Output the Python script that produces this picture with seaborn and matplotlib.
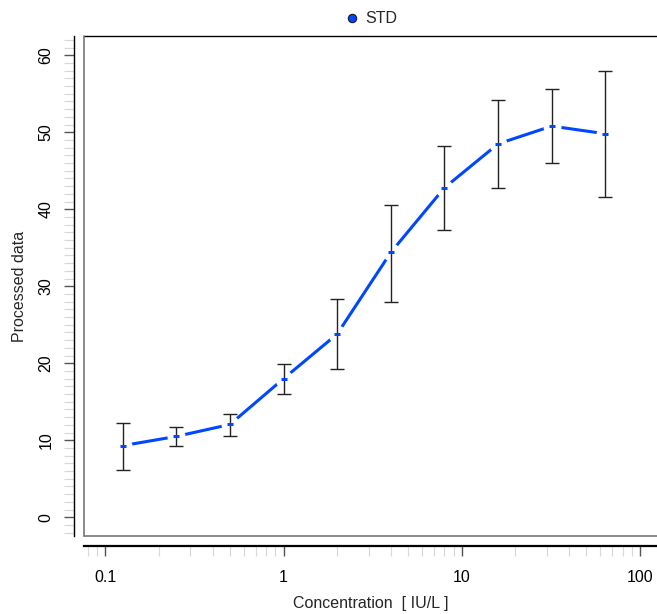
import numpy as np
import pandas as pd
import matplotlib
matplotlib.use("Agg")
import matplotlib.pyplot as plt
from matplotlib.lines import Line2D
from matplotlib.ticker import LogLocator, FixedLocator, NullFormatter
import seaborn as sns

# ---- data ----
concentration = [0.125, 0.25, 0.5, 1, 2, 4, 8, 16, 32, 64]
mean_value = [9.3, 10.5, 12.05, 18.0, 23.8, 34.4, 42.8, 48.5, 50.8, 49.8]
bar_low = [6.1, 9.3, 10.6, 16.0, 19.3, 27.9, 37.3, 42.8, 46.0, 41.6]
bar_high = [12.3, 11.7, 13.35, 19.9, 28.4, 40.6, 48.2, 54.2, 55.6, 58.0]
series_name = "STD"
x_ticks = [0.1, 1, 10, 100]
x_tick_labels = ["0.1", "1", "10", "100"]
y_ticks = [0, 10, 20, 30, 40, 50, 60]

df = pd.DataFrame({"conc": concentration, "mean": mean_value,
                   "low": bar_low, "high": bar_high})

sns.set_style("white")
plt.rcParams["font.family"] = ["Liberation Sans", "DejaVu Sans"]

W, H = 657, 614
fig = plt.figure(figsize=(W / 100, H / 100), dpi=100)
left, right, top, bottom = 84, 657, 36, 536
ax = fig.add_axes([left / W, 1 - bottom / H, (right - left) / W, (bottom - top) / H])

blue = "#0047ff"
dark = "#222222"
fs = 11.5

# line with gaps around points (white markers break the line)
sns.lineplot(data=df, x="conc", y="mean", ax=ax, color=blue, linewidth=2.2,
             marker="o", markersize=13, markerfacecolor="white",
             markeredgecolor="white", markeredgewidth=0, legend=False,
             zorder=2)

# error bars
yerr = np.vstack([df["mean"] - df["low"], df["high"] - df["mean"]])
ax.errorbar(df["conc"], df["mean"], yerr=yerr, fmt="none", ecolor=dark,
            elinewidth=1.0, capsize=5, capthick=1.0, zorder=3)

# blue dashes at the means
ax.plot(df["conc"], df["mean"], linestyle="none", marker="_", markersize=5,
        markeredgewidth=2.2, color=blue, zorder=4)

ax.set_xscale("log")
ax.set_xlim(10 ** -1.1195, 10 ** 2.0954)
ax.set_ylim(-2.43, 62.5)

# spines: detached axis lines
for s in ["top", "right"]:
    ax.spines[s].set_visible(False)
ax.spines["left"].set_position(("outward", 7.2))
ax.spines["bottom"].set_position(("outward", 7.0))
ax.spines["left"].set_color("black")
ax.spines["left"].set_linewidth(1.0)
ax.spines["bottom"].set_color("black")
ax.spines["bottom"].set_linewidth(1.6)

# box around the plotting region
ax.plot([0, 1], [1, 1], transform=ax.transAxes, color="black", lw=1.0, clip_on=False)
ax.plot([0, 0], [0, 1], transform=ax.transAxes, color="#777777", lw=1.2, clip_on=False)
ax.plot([0, 1], [0, 0], transform=ax.transAxes, color="#777777", lw=1.2, clip_on=False)

# ticks
ax.set_xticks(x_ticks)
ax.set_xticklabels(x_tick_labels)
ax.xaxis.set_minor_locator(LogLocator(base=10, subs=np.arange(2, 10), numticks=20))
ax.xaxis.set_minor_formatter(NullFormatter())
ax.set_yticks(y_ticks)
ax.yaxis.set_minor_locator(FixedLocator(np.arange(-2, 63, 1)))

ax.tick_params(axis="both", which="major", direction="out", length=7.2,
               width=1.0, color="#555555", labelsize=fs, labelcolor="black",
               bottom=True, left=True)
ax.tick_params(axis="both", which="minor", direction="out", length=7.2,
               width=0.8, color="#d8d8d8", bottom=True, left=True)
ax.tick_params(axis="y", which="major", pad=7.5)
ax.tick_params(axis="x", which="major", pad=10.0)
for lab in ax.get_yticklabels():
    lab.set_rotation(90)
    lab.set_va("center")

ax.set_xlabel("Concentration  [ IU/L ]", fontsize=fs, labelpad=8.5)
ax.set_ylabel("Processed data", fontsize=fs, labelpad=8)

handle = Line2D([], [], linestyle="none", marker="o", markersize=6,
                markerfacecolor=blue, markeredgecolor="#1a1a1a",
                markeredgewidth=0.8)
ax.legend([handle], [series_name], loc="lower center", bbox_to_anchor=(0.5, 1.0),
          frameon=False, fontsize=fs, handletextpad=0.3, borderaxespad=0.2,
          handlelength=1.0)

fig.savefig("out.png", dpi=100)
